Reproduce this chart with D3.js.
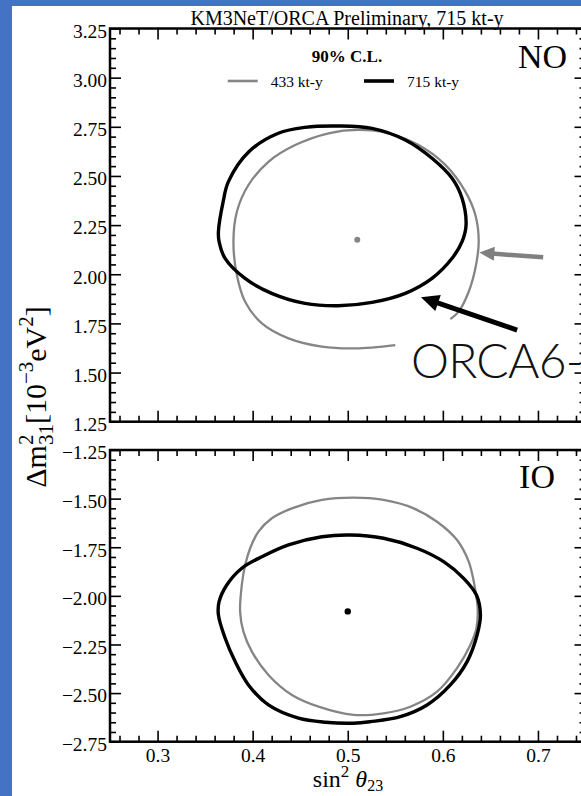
<!DOCTYPE html>
<html>
<head>
<meta charset="utf-8">
<script src="https://cdn.jsdelivr.net/npm/d3@7"></script>
<style>
  html, body { margin: 0; padding: 0; background: #4472c4; }
  svg { display: block; }
</style>
</head>
<body>
<svg id="chart" width="581" height="796"></svg>
<script>
// 90% C.L. contours in (sin^2 theta23, dm^2_31 [1e-3 eV^2])
const no715 = [
  [0.364, 2.216], [0.369, 2.369], [0.3745, 2.471], [0.396, 2.623], [0.427, 2.717],
  [0.455, 2.747], [0.490, 2.754], [0.5255, 2.742], [0.5605, 2.683], [0.5886, 2.590],
  [0.6097, 2.488], [0.6202, 2.386], [0.6244, 2.250], [0.6202, 2.166], [0.6097, 2.081],
  [0.5886, 1.979], [0.5605, 1.903], [0.5255, 1.857], [0.490, 1.840], [0.455, 1.852],
  [0.420, 1.903], [0.392, 1.979], [0.371, 2.081], [0.3647, 2.166]
];
// 433 kt-y NO contour is open at the bottom
const no433 = [
  [0.6079, 1.772], [0.6166, 1.810], [0.6272, 1.911], [0.6342, 2.030], [0.6377, 2.166],
  [0.6342, 2.301], [0.6237, 2.420], [0.6026, 2.556], [0.5745, 2.657], [0.5429, 2.717],
  [0.5114, 2.734], [0.4798, 2.717], [0.4447, 2.657], [0.4166, 2.572], [0.3956, 2.454],
  [0.3834, 2.318], [0.3798, 2.166], [0.3834, 1.996], [0.3921, 1.860], [0.4097, 1.750],
  [0.4377, 1.674], [0.4728, 1.632], [0.5079, 1.623], [0.550, 1.640]
];
const io715 = [
  [0.364, -2.098], [0.3647, -2.030], [0.3728, -1.944], [0.3886, -1.858], [0.4097, -1.799],
  [0.4377, -1.738], [0.4728, -1.696], [0.5026, -1.687], [0.5377, -1.704], [0.5728, -1.755],
  [0.6008, -1.824], [0.6219, -1.910], [0.6353, -1.996], [0.6395, -2.098], [0.636, -2.201],
  [0.6255, -2.338], [0.6079, -2.458], [0.5834, -2.561], [0.5553, -2.621], [0.5237, -2.647],
  [0.5061, -2.655], [0.4763, -2.650], [0.4482, -2.629], [0.4166, -2.561], [0.3956, -2.458],
  [0.3816, -2.338], [0.3711, -2.218]
];
const io433 = [
  [0.5061, -1.495], [0.5377, -1.507], [0.5693, -1.550], [0.5939, -1.619], [0.6149, -1.713],
  [0.6272, -1.824], [0.6332, -1.944], [0.6366, -2.064], [0.6353, -2.167], [0.6289, -2.253],
  [0.6149, -2.372], [0.5939, -2.493], [0.5658, -2.570], [0.5377, -2.604], [0.5061, -2.612],
  [0.4693, -2.570], [0.4413, -2.510], [0.4166, -2.407], [0.3992, -2.287], [0.3903, -2.184],
  [0.3868, -2.081], [0.3886, -1.944], [0.3921, -1.841], [0.3974, -1.755], [0.4061, -1.670],
  [0.4202, -1.601], [0.4413, -1.550], [0.4728, -1.507]
];
// best-fit points
const bestNO433 = [0.510, 2.175];
const bestIO715 = [0.500, -2.080];

const xTicks = [0.3, 0.4, 0.5, 0.6, 0.7];
const yTicksNO = [1.25, 1.50, 1.75, 2.00, 2.25, 2.50, 2.75, 3.00, 3.25];
const yTicksIO = [-2.75, -2.50, -2.25, -2.00, -1.75, -1.50, -1.25];

const titleText = "KM3NeT/ORCA Preliminary, 715 kt-y";
const legendTitle = "90% C.L.";
const legendLabels = ["433 kt-y", "715 kt-y"];

const SERIF = "'Liberation Serif', 'Times New Roman', serif";
const GRAY = "#858585";

const svg = d3.select("#chart");
// slide background with white page
svg.append("rect").attr("x", 0).attr("y", 0).attr("width", 581).attr("height", 796).attr("fill", "#4472c4");
svg.append("rect").attr("x", 12).attr("y", 6).attr("width", 569).attr("height", 790).attr("fill", "#ffffff");

const x = d3.scaleLinear().domain([0.25, 0.75]).range([110, 585.5]);
const yNO = d3.scaleLinear().domain([1.25, 3.25]).range([421.7, 28.5]);
const yIO = d3.scaleLinear().domain([-2.75, -1.25]).range([741.7, 450]);

const xMinor = d3.range(0.26, 0.75, 0.02).filter(v => Math.abs(v * 10 - Math.round(v * 10)) > 1e-6);
function minorY(dom) {
  return d3.range(dom[0], dom[1] + 1e-9, 0.05).filter(v => Math.abs(v * 4 - Math.round(v * 4)) > 1e-6);
}

function drawPanel(y, yTicks, showXLabels) {
  const g = svg.append("g");
  const [y0, y1] = y.range();
  const [x0, x1] = x.range();
  const fmt = d3.format(".2f");

  // left
  g.append("g").attr("transform", `translate(${x0},0)`)
    .call(d3.axisLeft(y).tickValues(minorY(y.domain())).tickSize(-6).tickSizeOuter(0).tickFormat(""));
  g.append("g").attr("transform", `translate(${x0},0)`)
    .call(d3.axisLeft(y).tickValues(yTicks).tickSize(-11).tickSizeOuter(0).tickPadding(3).tickFormat(fmt))
    .selectAll("text").attr("dy", "0.45em");
  // right
  g.append("g").attr("transform", `translate(${x1},0)`)
    .call(d3.axisRight(y).tickValues(minorY(y.domain())).tickSize(-6).tickSizeOuter(0).tickFormat(""));
  g.append("g").attr("transform", `translate(${x1},0)`)
    .call(d3.axisRight(y).tickValues(yTicks).tickSize(-11).tickSizeOuter(0).tickFormat(""));
  // top
  g.append("g").attr("transform", `translate(0,${y1})`)
    .call(d3.axisTop(x).tickValues(xMinor).tickSize(-6).tickSizeOuter(0).tickFormat(""));
  g.append("g").attr("transform", `translate(0,${y1})`)
    .call(d3.axisTop(x).tickValues(xTicks).tickSize(-11).tickSizeOuter(0).tickFormat(""));
  // bottom
  g.append("g").attr("transform", `translate(0,${y0})`)
    .call(d3.axisBottom(x).tickValues(xMinor).tickSize(-6).tickSizeOuter(0).tickFormat(""));
  g.append("g").attr("transform", `translate(0,${y0})`)
    .call(d3.axisBottom(x).tickValues(xTicks).tickSize(-11).tickSizeOuter(0).tickPadding(6)
      .tickFormat(showXLabels ? d3.format(".1f") : ""));

  g.selectAll(".domain").remove();
  g.selectAll(".tick line").attr("stroke", "#000").attr("stroke-width", 1.6);
  g.selectAll(".tick text").attr("fill", "#000").style("font-family", SERIF).style("font-size", "19.5px");

  g.append("rect")
    .attr("x", x0).attr("y", y1).attr("width", x1 - x0).attr("height", y0 - y1)
    .attr("fill", "none").attr("stroke", "#000").attr("stroke-width", 2.5);
  return g;
}

drawPanel(yNO, yTicksNO, false);
drawPanel(yIO, yTicksIO, true);

function contour(y, pts, closed, color, width) {
  const line = d3.line().x(d => x(d[0])).y(d => y(d[1]))
    .curve(closed ? d3.curveCatmullRomClosed.alpha(0.5) : d3.curveCatmullRom.alpha(0.5));
  svg.append("path").attr("d", line(pts)).attr("fill", "none")
    .attr("stroke", color).attr("stroke-width", width).attr("stroke-linejoin", "round");
}

contour(yNO, no433, false, GRAY, 2.3);
contour(yNO, no715, true, "#000", 3.4);
contour(yIO, io433, true, GRAY, 2.3);
contour(yIO, io715, true, "#000", 3.4);

svg.append("circle").attr("cx", x(bestNO433[0])).attr("cy", yNO(bestNO433[1])).attr("r", 3).attr("fill", GRAY);
svg.append("circle").attr("cx", x(bestIO715[0])).attr("cy", yIO(bestIO715[1])).attr("r", 3.2).attr("fill", "#000");

// title
svg.append("text").attr("x", 347).attr("y", 25).attr("text-anchor", "middle")
  .style("font-family", SERIF).style("font-size", "20px").text(titleText);

// legend
svg.append("text").attr("x", 347).attr("y", 62).attr("text-anchor", "middle")
  .style("font-family", SERIF).style("font-size", "17px").style("font-weight", "bold").text(legendTitle);
const legendItems = [
  { x: 227.7, color: GRAY, w: 2.6, label: legendLabels[0] },
  { x: 364, color: "#000", w: 3.6, label: legendLabels[1] }
];
legendItems.forEach(d => {
  svg.append("line").attr("x1", d.x).attr("x2", d.x + 30).attr("y1", 81).attr("y2", 81)
    .attr("stroke", d.color).attr("stroke-width", d.w);
  svg.append("text").attr("x", d.x + 43).attr("y", 86.5)
    .style("font-family", SERIF).style("font-size", "15.5px").text(d.label);
});

// ordering labels
svg.append("text").attr("x", 567).attr("y", 68).attr("text-anchor", "end")
  .style("font-family", SERIF).style("font-size", "34px").text("NO");
svg.append("text").attr("x", 555).attr("y", 488).attr("text-anchor", "end")
  .style("font-family", SERIF).style("font-size", "34px").text("IO");

// axis titles
const xl = svg.append("text").attr("x", 348).attr("y", 787).attr("text-anchor", "middle")
  .style("font-family", SERIF).style("font-size", "24px");
xl.append("tspan").text("sin");
xl.append("tspan").attr("dy", -10).style("font-size", "17px").text("2");
xl.append("tspan").attr("dy", 10).attr("dx", 6).style("font-style", "italic").text("θ");
xl.append("tspan").attr("dy", 4).style("font-size", "16px").text("23");

const yl = svg.append("text").attr("transform", "translate(46,397) rotate(-90)").attr("text-anchor", "middle")
  .style("font-family", SERIF).style("font-size", "30px");
yl.append("tspan").text("Δm");
yl.append("tspan").attr("dy", -13).style("font-size", "21px").text("2");
yl.append("tspan").attr("dy", 20).attr("dx", -10.5).style("font-size", "21px").text("31");
yl.append("tspan").attr("dy", -7).text("[10");
yl.append("tspan").attr("dy", -13).style("font-size", "21px").text("−3");
yl.append("tspan").attr("dy", 13).text("eV");
yl.append("tspan").attr("dy", -13).style("font-size", "21px").text("2");
yl.append("tspan").attr("dy", 13).text("]");

// annotation arrows (positions in data coordinates of the NO panel)
const arrows = [
  { from: [0.7055, 2.086], to: [0.6384, 2.110], color: "#808080", w: 4.5, hl: 15, hw: 14 },
  { from: [0.6781, 1.716], to: [0.577, 1.883], color: "#000", w: 5, hl: 18, hw: 17 }
];
arrows.forEach(a => {
  const x1 = x(a.from[0]), y1 = yNO(a.from[1]);
  const x2 = x(a.to[0]), y2 = yNO(a.to[1]);
  const ang = Math.atan2(y2 - y1, x2 - x1);
  const bx = x2 - a.hl * Math.cos(ang), by = y2 - a.hl * Math.sin(ang);
  svg.append("line").attr("x1", x1).attr("y1", y1).attr("x2", bx + 2 * Math.cos(ang)).attr("y2", by + 2 * Math.sin(ang))
    .attr("stroke", a.color).attr("stroke-width", a.w);
  const px = -Math.sin(ang), py = Math.cos(ang);
  const head = [[x2, y2], [bx + px * a.hw / 2, by + py * a.hw / 2], [bx - px * a.hw / 2, by - py * a.hw / 2]];
  svg.append("path").attr("d", "M" + head.map(p => p.join(",")).join("L") + "Z").attr("fill", a.color);
});

svg.append("text").attr("x", 411).attr("y", 378)
  .style("font-family", "Lato, 'Open Sans', sans-serif").style("font-weight", 300)
  .style("letter-spacing", "-0.8px")
  .style("font-size", "48px").attr("fill", "#111").text("ORCA6-");
</script>
</body>
</html>
